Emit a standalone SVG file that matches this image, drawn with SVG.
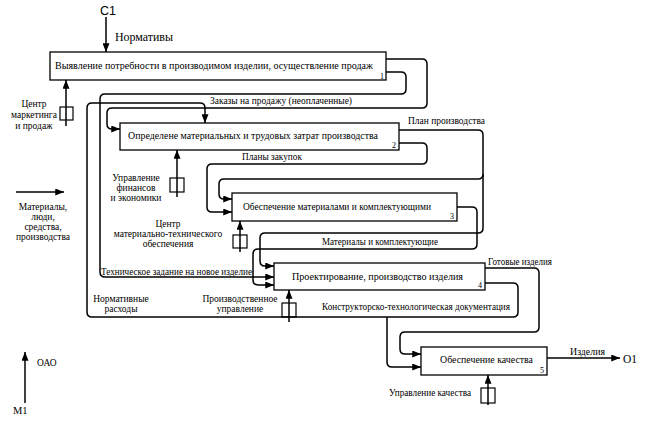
<svg xmlns="http://www.w3.org/2000/svg" width="645" height="422" viewBox="0 0 645 422">
<style>
  .box { fill: #ffffff; stroke: #000000; stroke-width: 1.3; }
  .ln { fill: none; stroke: #000000; stroke-width: 1.5; stroke-linejoin: round; }
  .arr { marker-end: url(#ah); }
  .tun { fill: none; stroke: #000000; stroke-width: 1.2; }
  .bt { font-family: "Liberation Serif", "Times New Roman", serif; font-size: 10.5px; fill: #000000; }
  .num { font-family: "Liberation Serif", "Times New Roman", serif; font-size: 8px; fill: #000000; }
  .lb { font-family: "Liberation Serif", "Times New Roman", serif; font-size: 9.5px; fill: #000000; }
  .lbc { font-family: "Liberation Serif", "Times New Roman", serif; font-size: 9.5px; fill: #000000; text-anchor: middle; }
  .big { font-family: "Liberation Serif", "Times New Roman", serif; font-size: 13px; fill: #000000; }
  .sans { font-family: "Liberation Sans", Arial, sans-serif; font-size: 12.5px; fill: #000000; }
</style>
<defs>
  <marker id="ah" viewBox="0 0 10 8" refX="10" refY="4" markerWidth="9" markerHeight="7" orient="auto" markerUnits="userSpaceOnUse">
    <path d="M0,0 L10,4 L0,8 Z" fill="#000000"/>
  </marker>
</defs>
<rect x="0" y="0" width="645" height="422" fill="#ffffff"/>

<g id="connectors">
  <!-- C1 control -->
  <path class="ln arr" d="M106,17 V52"/>
  <!-- Box1 output: Заказы на продажу -->
  <path class="ln arr" d="M386,59 H422 Q427,59 427,64 V103 Q427,108 422,108 H112 Q107,108 107,113 V124 Q107,129 112,129 H120"/>
  <!-- Box1 output: Техническое задание -->
  <path class="ln arr" d="M386,72 H401 Q406,72 406,77 V89 Q406,94 401,94 H105 Q100,94 100,99 V272 Q100,277 105,277 H274"/>
  <!-- Box4 output: Конструкторско-технологическая документация / Нормативные расходы -->
  <path class="ln arr" d="M485,283 H513 Q518,283 518,288 V312 Q518,317 513,317 H92 Q87,317 87,312 V108 Q87,103 92,103 H200 Q205,103 205,108 V123"/>
  <path class="ln arr" d="M387,317 V362 Q387,367 392,367 H421"/>
  <!-- Box2 output: План производства -->
  <path class="ln arr" d="M399,130 H478 Q483,130 483,135 V228 Q483,233 478,233 H265 Q260,233 260,238 V261 Q260,266 265,266 H274"/>
  <path class="ln arr" d="M483,174 Q483,179 478,179 H224 Q219,179 219,184 V194 Q219,199 224,199 H232"/>
  <!-- Box2 output: Планы закупок -->
  <path class="ln arr" d="M399,143 H422 Q427,143 427,148 V159 Q427,164 422,164 H212 Q207,164 207,169 V207 Q207,212 212,212 H232"/>
  <!-- Box3 output: Материалы и комплектующие -->
  <path class="ln arr" d="M457,207 H472 Q477,207 477,212 V244 Q477,249 472,249 H258 Q253,249 253,254 V280 Q253,285 258,285 H274"/>
  <!-- Box4 output: Готовые изделия -->
  <path class="ln arr" d="M485,268 H534 Q539,268 539,273 V327 Q539,332 534,332 H405 Q400,332 400,337 V349 Q400,354 405,354 H421"/>
  <!-- Box5 output: Изделия -->
  <path class="ln arr" d="M547,358 H620"/>
  <!-- Mechanisms -->
  <path class="ln arr" d="M66,126 V80"/>
  <rect class="tun" x="60" y="107" width="13" height="13"/>
  <path class="ln arr" d="M177,197 V150"/>
  <rect class="tun" x="170" y="178" width="14" height="14"/>
  <path class="ln arr" d="M240,252 V221"/>
  <rect class="tun" x="233" y="235" width="14" height="13"/>
  <path class="ln arr" d="M289,322 V290"/>
  <rect class="tun" x="282" y="303" width="14" height="14"/>
  <path class="ln arr" d="M488,405 V375"/>
  <rect class="tun" x="481" y="388" width="14" height="15"/>
  <!-- Legend arrows -->
  <path class="ln arr" d="M16,192 H64"/>
  <path class="ln arr" d="M25,403 V352"/>

  <!-- Labels -->
  <text class="sans" x="100" y="15">C1</text>
  <text class="big" x="115" y="41" textLength="58" lengthAdjust="spacingAndGlyphs">Нормативы</text>
  <text class="lb" x="210" y="104" textLength="142" lengthAdjust="spacingAndGlyphs">Заказы на продажу (неоплаченные)</text>
  <text class="lb" x="408" y="124" textLength="77" lengthAdjust="spacingAndGlyphs">План производства</text>
  <text class="lb" x="242" y="160" textLength="60" lengthAdjust="spacingAndGlyphs">Планы закупок</text>
  <text class="lb" x="322" y="245" textLength="116" lengthAdjust="spacingAndGlyphs">Материалы и комплектующие</text>
  <text class="lb" x="488" y="265" textLength="64" lengthAdjust="spacingAndGlyphs">Готовые изделия</text>
  <text class="lb" x="101" y="275" textLength="151" lengthAdjust="spacingAndGlyphs">Техническое задание на новое изделие</text>
  <text class="lb" x="322" y="310" textLength="188" lengthAdjust="spacingAndGlyphs">Конструкторско-технологическая документация</text>
  <text class="lb" x="570" y="355" textLength="35" lengthAdjust="spacingAndGlyphs">Изделия</text>
  <text class="big" x="623" y="363" style="font-size:11.5px">O1</text>

  <text class="lbc" x="34" y="107">Центр</text>
  <text class="lbc" x="34" y="118">маркетинга</text>
  <text class="lbc" x="34" y="129">и продаж</text>

  <text class="lbc" x="136" y="181">Управление</text>
  <text class="lbc" x="136" y="191">финансов</text>
  <text class="lbc" x="136" y="201">и экономики</text>

  <text class="lbc" x="168" y="227">Центр</text>
  <text class="lbc" x="168" y="237">материально-технического</text>
  <text class="lbc" x="168" y="247">обеспечения</text>

  <text class="lbc" x="240" y="302">Производственное</text>
  <text class="lbc" x="240" y="312">управление</text>

  <text class="lbc" x="121" y="302">Нормативные</text>
  <text class="lbc" x="121" y="312">расходы</text>

  <text class="lb" x="389" y="396" textLength="82" lengthAdjust="spacingAndGlyphs">Управление качества</text>

  <text class="lbc" x="43" y="210">Материалы,</text>
  <text class="lbc" x="43" y="220">люди,</text>
  <text class="lbc" x="43" y="230">средства,</text>
  <text class="lbc" x="43" y="240">производства</text>

  <text class="lb" x="37" y="366">ОАО</text>
  <text class="lb" x="13" y="414" style="font-size:10.5px">M1</text>
</g>

<g id="node1">
  <rect class="box" x="50" y="52" width="336" height="28"/>
  <text class="bt" x="55" y="69" textLength="318" lengthAdjust="spacingAndGlyphs">Выявление потребности в производимом изделии, осуществление продаж</text>
  <text class="num" x="380" y="78.5">1</text>
</g>
<g id="node2">
  <rect class="box" x="120" y="123" width="279" height="27"/>
  <text class="bt" x="128" y="139" textLength="250" lengthAdjust="spacingAndGlyphs">Определене материальных и трудовых затрат производства</text>
  <text class="num" x="392" y="148">2</text>
</g>
<g id="node3">
  <rect class="box" x="232" y="193" width="225" height="28"/>
  <text class="bt" x="243" y="210" textLength="188" lengthAdjust="spacingAndGlyphs">Обеспечение материалами и комплектующими</text>
  <text class="num" x="450" y="219">3</text>
</g>
<g id="node4">
  <rect class="box" x="274" y="263" width="211" height="27"/>
  <text class="bt" x="292" y="280" textLength="171" lengthAdjust="spacingAndGlyphs">Проектирование, производство изделия</text>
  <text class="num" x="478" y="288">4</text>
</g>
<g id="node5">
  <rect class="box" x="421" y="347" width="126" height="28"/>
  <text class="bt" x="440" y="363" textLength="93" lengthAdjust="spacingAndGlyphs">Обеспечение качества</text>
  <text class="num" x="540" y="373">5</text>
</g>
</svg>
